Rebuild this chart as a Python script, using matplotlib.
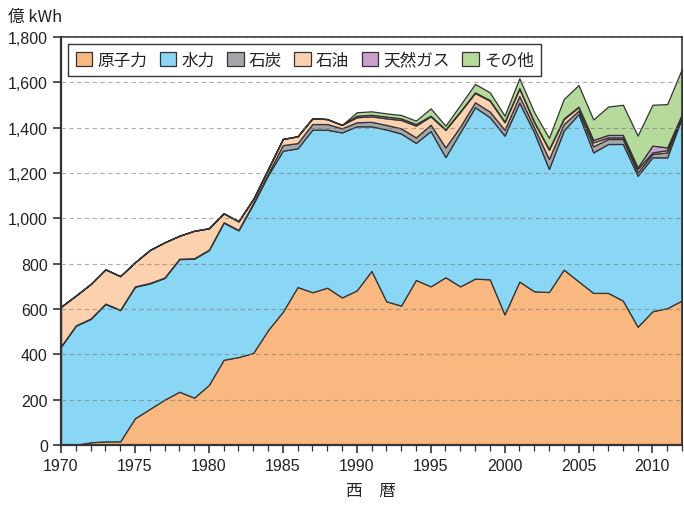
import matplotlib
matplotlib.use("Agg")
import matplotlib.pyplot as plt
from matplotlib.ticker import MultipleLocator, FuncFormatter
import numpy as np

plt.rcParams['font.family'] = ['Liberation Sans', 'Noto Sans CJK JP', 'DejaVu Sans']

years = list(range(1970, 2013))
nuclear = [0, 1, 12, 16, 16, 118, 159, 200, 235, 209, 265, 376, 388, 406, 507, 588,
           697, 674, 694, 651, 682, 768, 634, 615, 728, 700, 740, 700, 734, 731, 576,
           721, 678, 675, 774, 722, 671, 671, 637, 522, 590, 604, 638]
hydro = [434, 525, 544, 606, 579, 580, 554, 537, 585, 613, 595, 605, 559, 657, 683, 710,
         612, 717, 697, 728, 724, 638, 758, 759, 605, 685, 530, 680, 756, 715, 789,
         789, 701, 543, 613, 738, 620, 657, 691, 666, 679, 665, 808]
coal = [2, 2, 2, 2, 2, 2, 2, 2, 2, 2, 2, 2, 2, 5, 8, 25,
        23, 25, 25, 18, 18, 20, 20, 23, 24, 28, 43, 25, 22, 25, 26,
        30, 22, 44, 29, 15, 27, 22, 22, 15, 15, 22, 7]
oil = [174, 131, 152, 151, 148, 106, 145, 155, 101, 121, 94, 39, 38, 17, 19, 27,
       30, 25, 22, 15, 22, 24, 29, 37, 52, 37, 77, 65, 41, 48, 33,
       32, 23, 41, 22, 15, 17, 7, 7, 15, 7, 10, 5]
gas = [0, 0, 0, 0, 0, 0, 0, 0, 0, 0, 0, 0, 0, 0, 0, 0,
       0, 0, 0, 0, 7, 7, 8, 7, 7, 3, 3, 3, 3, 3, 3,
       3, 3, 3, 3, 3, 11, 11, 11, 7, 30, 12, 3]
other = [0, 0, 0, 0, 0, 0, 0, 0, 0, 0, 0, 0, 0, 0, 0, 0,
         0, 0, 0, 0, 15, 15, 14, 15, 15, 32, 16, 27, 37, 34, 26,
         43, 41, 49, 85, 95, 90, 125, 133, 140, 180, 191, 200]

labels = ['原子力', '水力', '石炭', '石油', '天然ガス', 'その他']
colors = ['#F8B880', '#8AD6F5', '#A5A6A9', '#FCD1AF', '#C8A0CC', '#B6D99C']

fig = plt.figure(figsize=(6.84, 5.06), dpi=100)
ax = fig.add_axes([61/684, 60/506, 621/684, 408/506])

polys = ax.stackplot(years, nuclear, hydro, coal, oil, gas, other,
                     colors=colors, labels=labels, edgecolor='#333333', linewidth=0.9)

ax.set_xlim(1970, 2012)
ax.set_ylim(0, 1800)
ax.xaxis.set_major_locator(MultipleLocator(5))
ax.xaxis.set_minor_locator(MultipleLocator(1))
ax.yaxis.set_major_locator(MultipleLocator(200))
ax.yaxis.set_major_formatter(FuncFormatter(lambda v, p: f'{int(v):,}'))

ax.grid(axis='y', which='major', linestyle=(0, (4, 3)), color='#777777', alpha=0.6, linewidth=0.8)
ax.set_axisbelow(False)

for s in ['left', 'bottom']:
    ax.spines[s].set_linewidth(1.6)
    ax.spines[s].set_color('#333333')
for s in ['top', 'right']:
    ax.spines[s].set_linewidth(1.2)
    ax.spines[s].set_color('#333333')

ax.tick_params(axis='both', which='major', direction='out', length=6, width=1.2,
               color='#333333', labelsize=11.5, labelcolor='#222222')
ax.tick_params(axis='x', which='minor', direction='out', length=4, width=0.9, color='#333333')
ax.tick_params(axis='y', which='minor', left=False)

for lab in ax.get_xticklabels() + ax.get_yticklabels():
    lab.set_family(['Liberation Sans', 'DejaVu Sans'])

cjk = ['Noto Sans CJK JP', 'DejaVu Sans']
fig.text(8/684, 1 - 17/506, '億 kWh', family=cjk, fontsize=12, color='#222222', va='center', ha='left')
fig.text(371/684, 1 - 492/506, '西\u3000暦', family=cjk, fontsize=12, color='#222222', va='center', ha='center')

leg = ax.legend(loc='upper left', bbox_to_anchor=((68-61)/621, (446-45)/408), ncol=6,
                frameon=True, fancybox=False, edgecolor='#333333', framealpha=1,
                borderaxespad=0, handlelength=1.0, handleheight=1.0, handletextpad=0.3,
                columnspacing=0.75, borderpad=0.45,
                prop={'family': cjk, 'size': 12})
leg.get_frame().set_linewidth(1.0)
for t in leg.get_texts():
    t.set_color('#222222')

fig.savefig('out.png', dpi=100)
